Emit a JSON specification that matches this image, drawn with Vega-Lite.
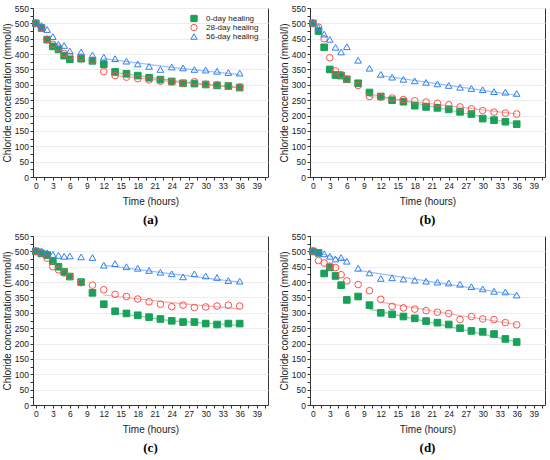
{
  "$schema": "https://vega.github.io/schema/vega-lite/v6.json",
  "padding": {"left": 1, "top": 3, "right": 2, "bottom": 0},
  "datasets": {
    "pts": [
      {"p":"a","s":"0-day healing","t":0,"c":500},{"p":"a","s":"0-day healing","t":1,"c":485},{"p":"a","s":"0-day healing","t":2,"c":447},{"p":"a","s":"0-day healing","t":3,"c":425},{"p":"a","s":"0-day healing","t":4,"c":415},{"p":"a","s":"0-day healing","t":5,"c":395},{"p":"a","s":"0-day healing","t":6,"c":383},{"p":"a","s":"0-day healing","t":8,"c":385},{"p":"a","s":"0-day healing","t":10,"c":378},{"p":"a","s":"0-day healing","t":12,"c":367},{"p":"a","s":"0-day healing","t":14,"c":342},{"p":"a","s":"0-day healing","t":16,"c":336},{"p":"a","s":"0-day healing","t":18,"c":330},{"p":"a","s":"0-day healing","t":20,"c":323},{"p":"a","s":"0-day healing","t":22,"c":317},{"p":"a","s":"0-day healing","t":24,"c":311},{"p":"a","s":"0-day healing","t":26,"c":305},{"p":"a","s":"0-day healing","t":28,"c":304},{"p":"a","s":"0-day healing","t":30,"c":301},{"p":"a","s":"0-day healing","t":32,"c":298},{"p":"a","s":"0-day healing","t":34,"c":296},{"p":"a","s":"0-day healing","t":36,"c":291},
      {"p":"a","s":"28-day healing","t":0,"c":500},{"p":"a","s":"28-day healing","t":1,"c":487},{"p":"a","s":"28-day healing","t":2,"c":448},{"p":"a","s":"28-day healing","t":3,"c":432},{"p":"a","s":"28-day healing","t":4,"c":420},{"p":"a","s":"28-day healing","t":5,"c":402},{"p":"a","s":"28-day healing","t":6,"c":393},{"p":"a","s":"28-day healing","t":8,"c":390},{"p":"a","s":"28-day healing","t":10,"c":380},{"p":"a","s":"28-day healing","t":12,"c":343},{"p":"a","s":"28-day healing","t":14,"c":330},{"p":"a","s":"28-day healing","t":16,"c":325},{"p":"a","s":"28-day healing","t":18,"c":320},{"p":"a","s":"28-day healing","t":20,"c":316},{"p":"a","s":"28-day healing","t":22,"c":312},{"p":"a","s":"28-day healing","t":24,"c":309},{"p":"a","s":"28-day healing","t":26,"c":305},{"p":"a","s":"28-day healing","t":28,"c":310},{"p":"a","s":"28-day healing","t":30,"c":302},{"p":"a","s":"28-day healing","t":32,"c":300},{"p":"a","s":"28-day healing","t":34,"c":296},{"p":"a","s":"28-day healing","t":36,"c":293},
      {"p":"a","s":"56-day healing","t":0,"c":503},{"p":"a","s":"56-day healing","t":1,"c":493},{"p":"a","s":"56-day healing","t":2,"c":480},{"p":"a","s":"56-day healing","t":3,"c":457},{"p":"a","s":"56-day healing","t":4,"c":432},{"p":"a","s":"56-day healing","t":5,"c":428},{"p":"a","s":"56-day healing","t":6,"c":410},{"p":"a","s":"56-day healing","t":8,"c":407},{"p":"a","s":"56-day healing","t":10,"c":397},{"p":"a","s":"56-day healing","t":12,"c":390},{"p":"a","s":"56-day healing","t":14,"c":385},{"p":"a","s":"56-day healing","t":16,"c":377},{"p":"a","s":"56-day healing","t":18,"c":368},{"p":"a","s":"56-day healing","t":20,"c":360},{"p":"a","s":"56-day healing","t":22,"c":350},{"p":"a","s":"56-day healing","t":24,"c":358},{"p":"a","s":"56-day healing","t":26,"c":355},{"p":"a","s":"56-day healing","t":28,"c":350},{"p":"a","s":"56-day healing","t":30,"c":348},{"p":"a","s":"56-day healing","t":32,"c":344},{"p":"a","s":"56-day healing","t":34,"c":340},{"p":"a","s":"56-day healing","t":36,"c":338},
      {"p":"b","s":"0-day healing","t":0,"c":500},{"p":"b","s":"0-day healing","t":1,"c":475},{"p":"b","s":"0-day healing","t":2,"c":422},{"p":"b","s":"0-day healing","t":3,"c":350},{"p":"b","s":"0-day healing","t":4,"c":332},{"p":"b","s":"0-day healing","t":5,"c":330},{"p":"b","s":"0-day healing","t":6,"c":318},{"p":"b","s":"0-day healing","t":8,"c":305},{"p":"b","s":"0-day healing","t":10,"c":275},{"p":"b","s":"0-day healing","t":12,"c":262},{"p":"b","s":"0-day healing","t":14,"c":250},{"p":"b","s":"0-day healing","t":16,"c":245},{"p":"b","s":"0-day healing","t":18,"c":232},{"p":"b","s":"0-day healing","t":20,"c":228},{"p":"b","s":"0-day healing","t":22,"c":225},{"p":"b","s":"0-day healing","t":24,"c":220},{"p":"b","s":"0-day healing","t":26,"c":212},{"p":"b","s":"0-day healing","t":28,"c":205},{"p":"b","s":"0-day healing","t":30,"c":190},{"p":"b","s":"0-day healing","t":32,"c":185},{"p":"b","s":"0-day healing","t":34,"c":180},{"p":"b","s":"0-day healing","t":36,"c":172},
      {"p":"b","s":"28-day healing","t":0,"c":500},{"p":"b","s":"28-day healing","t":1,"c":488},{"p":"b","s":"28-day healing","t":2,"c":450},{"p":"b","s":"28-day healing","t":3,"c":388},{"p":"b","s":"28-day healing","t":4,"c":345},{"p":"b","s":"28-day healing","t":5,"c":333},{"p":"b","s":"28-day healing","t":6,"c":318},{"p":"b","s":"28-day healing","t":8,"c":298},{"p":"b","s":"28-day healing","t":10,"c":262},{"p":"b","s":"28-day healing","t":12,"c":260},{"p":"b","s":"28-day healing","t":14,"c":257},{"p":"b","s":"28-day healing","t":16,"c":252},{"p":"b","s":"28-day healing","t":18,"c":248},{"p":"b","s":"28-day healing","t":20,"c":244},{"p":"b","s":"28-day healing","t":22,"c":240},{"p":"b","s":"28-day healing","t":24,"c":235},{"p":"b","s":"28-day healing","t":26,"c":228},{"p":"b","s":"28-day healing","t":28,"c":222},{"p":"b","s":"28-day healing","t":30,"c":216},{"p":"b","s":"28-day healing","t":32,"c":211},{"p":"b","s":"28-day healing","t":34,"c":208},{"p":"b","s":"28-day healing","t":36,"c":205},
      {"p":"b","s":"56-day healing","t":0,"c":503},{"p":"b","s":"56-day healing","t":1,"c":487},{"p":"b","s":"56-day healing","t":2,"c":465},{"p":"b","s":"56-day healing","t":3,"c":448},{"p":"b","s":"56-day healing","t":4,"c":422},{"p":"b","s":"56-day healing","t":5,"c":407},{"p":"b","s":"56-day healing","t":6,"c":424},{"p":"b","s":"56-day healing","t":8,"c":380},{"p":"b","s":"56-day healing","t":10,"c":354},{"p":"b","s":"56-day healing","t":12,"c":334},{"p":"b","s":"56-day healing","t":14,"c":325},{"p":"b","s":"56-day healing","t":16,"c":318},{"p":"b","s":"56-day healing","t":18,"c":313},{"p":"b","s":"56-day healing","t":20,"c":308},{"p":"b","s":"56-day healing","t":22,"c":303},{"p":"b","s":"56-day healing","t":24,"c":298},{"p":"b","s":"56-day healing","t":26,"c":292},{"p":"b","s":"56-day healing","t":28,"c":288},{"p":"b","s":"56-day healing","t":30,"c":284},{"p":"b","s":"56-day healing","t":32,"c":278},{"p":"b","s":"56-day healing","t":34,"c":276},{"p":"b","s":"56-day healing","t":36,"c":272},
      {"p":"c","s":"0-day healing","t":0,"c":500},{"p":"c","s":"0-day healing","t":1,"c":493},{"p":"c","s":"0-day healing","t":2,"c":488},{"p":"c","s":"0-day healing","t":3,"c":468},{"p":"c","s":"0-day healing","t":4,"c":450},{"p":"c","s":"0-day healing","t":5,"c":433},{"p":"c","s":"0-day healing","t":6,"c":418},{"p":"c","s":"0-day healing","t":8,"c":400},{"p":"c","s":"0-day healing","t":10,"c":365},{"p":"c","s":"0-day healing","t":12,"c":328},{"p":"c","s":"0-day healing","t":14,"c":305},{"p":"c","s":"0-day healing","t":16,"c":298},{"p":"c","s":"0-day healing","t":18,"c":292},{"p":"c","s":"0-day healing","t":20,"c":286},{"p":"c","s":"0-day healing","t":22,"c":280},{"p":"c","s":"0-day healing","t":24,"c":274},{"p":"c","s":"0-day healing","t":26,"c":270},{"p":"c","s":"0-day healing","t":28,"c":270},{"p":"c","s":"0-day healing","t":30,"c":265},{"p":"c","s":"0-day healing","t":32,"c":262},{"p":"c","s":"0-day healing","t":34,"c":265},{"p":"c","s":"0-day healing","t":36,"c":265},
      {"p":"c","s":"28-day healing","t":0,"c":500},{"p":"c","s":"28-day healing","t":1,"c":495},{"p":"c","s":"28-day healing","t":2,"c":478},{"p":"c","s":"28-day healing","t":3,"c":450},{"p":"c","s":"28-day healing","t":4,"c":440},{"p":"c","s":"28-day healing","t":5,"c":430},{"p":"c","s":"28-day healing","t":6,"c":418},{"p":"c","s":"28-day healing","t":8,"c":398},{"p":"c","s":"28-day healing","t":10,"c":390},{"p":"c","s":"28-day healing","t":12,"c":375},{"p":"c","s":"28-day healing","t":14,"c":360},{"p":"c","s":"28-day healing","t":16,"c":353},{"p":"c","s":"28-day healing","t":18,"c":345},{"p":"c","s":"28-day healing","t":20,"c":336},{"p":"c","s":"28-day healing","t":22,"c":328},{"p":"c","s":"28-day healing","t":24,"c":320},{"p":"c","s":"28-day healing","t":26,"c":325},{"p":"c","s":"28-day healing","t":28,"c":317},{"p":"c","s":"28-day healing","t":30,"c":319},{"p":"c","s":"28-day healing","t":32,"c":322},{"p":"c","s":"28-day healing","t":34,"c":325},{"p":"c","s":"28-day healing","t":36,"c":322},
      {"p":"c","s":"56-day healing","t":0,"c":503},{"p":"c","s":"56-day healing","t":1,"c":502},{"p":"c","s":"56-day healing","t":2,"c":495},{"p":"c","s":"56-day healing","t":3,"c":490},{"p":"c","s":"56-day healing","t":4,"c":487},{"p":"c","s":"56-day healing","t":5,"c":484},{"p":"c","s":"56-day healing","t":6,"c":485},{"p":"c","s":"56-day healing","t":8,"c":482},{"p":"c","s":"56-day healing","t":10,"c":480},{"p":"c","s":"56-day healing","t":12,"c":455},{"p":"c","s":"56-day healing","t":14,"c":460},{"p":"c","s":"56-day healing","t":16,"c":450},{"p":"c","s":"56-day healing","t":18,"c":445},{"p":"c","s":"56-day healing","t":20,"c":438},{"p":"c","s":"56-day healing","t":22,"c":432},{"p":"c","s":"56-day healing","t":24,"c":427},{"p":"c","s":"56-day healing","t":26,"c":417},{"p":"c","s":"56-day healing","t":28,"c":427},{"p":"c","s":"56-day healing","t":30,"c":420},{"p":"c","s":"56-day healing","t":32,"c":415},{"p":"c","s":"56-day healing","t":34,"c":405},{"p":"c","s":"56-day healing","t":36,"c":403},
      {"p":"d","s":"0-day healing","t":0,"c":500},{"p":"d","s":"0-day healing","t":1,"c":495},{"p":"d","s":"0-day healing","t":2,"c":428},{"p":"d","s":"0-day healing","t":3,"c":448},{"p":"d","s":"0-day healing","t":4,"c":420},{"p":"d","s":"0-day healing","t":5,"c":390},{"p":"d","s":"0-day healing","t":6,"c":342},{"p":"d","s":"0-day healing","t":8,"c":353},{"p":"d","s":"0-day healing","t":10,"c":325},{"p":"d","s":"0-day healing","t":12,"c":300},{"p":"d","s":"0-day healing","t":14,"c":295},{"p":"d","s":"0-day healing","t":16,"c":288},{"p":"d","s":"0-day healing","t":18,"c":282},{"p":"d","s":"0-day healing","t":20,"c":273},{"p":"d","s":"0-day healing","t":22,"c":268},{"p":"d","s":"0-day healing","t":24,"c":262},{"p":"d","s":"0-day healing","t":26,"c":250},{"p":"d","s":"0-day healing","t":28,"c":241},{"p":"d","s":"0-day healing","t":30,"c":238},{"p":"d","s":"0-day healing","t":32,"c":231},{"p":"d","s":"0-day healing","t":34,"c":215},{"p":"d","s":"0-day healing","t":36,"c":205},
      {"p":"d","s":"28-day healing","t":0,"c":500},{"p":"d","s":"28-day healing","t":1,"c":470},{"p":"d","s":"28-day healing","t":2,"c":462},{"p":"d","s":"28-day healing","t":3,"c":452},{"p":"d","s":"28-day healing","t":4,"c":447},{"p":"d","s":"28-day healing","t":5,"c":424},{"p":"d","s":"28-day healing","t":6,"c":404},{"p":"d","s":"28-day healing","t":8,"c":392},{"p":"d","s":"28-day healing","t":10,"c":372},{"p":"d","s":"28-day healing","t":12,"c":344},{"p":"d","s":"28-day healing","t":14,"c":321},{"p":"d","s":"28-day healing","t":16,"c":316},{"p":"d","s":"28-day healing","t":18,"c":312},{"p":"d","s":"28-day healing","t":20,"c":307},{"p":"d","s":"28-day healing","t":22,"c":302},{"p":"d","s":"28-day healing","t":24,"c":298},{"p":"d","s":"28-day healing","t":26,"c":278},{"p":"d","s":"28-day healing","t":28,"c":288},{"p":"d","s":"28-day healing","t":30,"c":280},{"p":"d","s":"28-day healing","t":32,"c":278},{"p":"d","s":"28-day healing","t":34,"c":268},{"p":"d","s":"28-day healing","t":36,"c":261},
      {"p":"d","s":"56-day healing","t":0,"c":503},{"p":"d","s":"56-day healing","t":1,"c":498},{"p":"d","s":"56-day healing","t":2,"c":492},{"p":"d","s":"56-day healing","t":3,"c":484},{"p":"d","s":"56-day healing","t":4,"c":475},{"p":"d","s":"56-day healing","t":5,"c":480},{"p":"d","s":"56-day healing","t":6,"c":468},{"p":"d","s":"56-day healing","t":8,"c":445},{"p":"d","s":"56-day healing","t":10,"c":430},{"p":"d","s":"56-day healing","t":12,"c":412},{"p":"d","s":"56-day healing","t":14,"c":414},{"p":"d","s":"56-day healing","t":16,"c":410},{"p":"d","s":"56-day healing","t":18,"c":406},{"p":"d","s":"56-day healing","t":20,"c":403},{"p":"d","s":"56-day healing","t":22,"c":400},{"p":"d","s":"56-day healing","t":24,"c":397},{"p":"d","s":"56-day healing","t":26,"c":393},{"p":"d","s":"56-day healing","t":28,"c":385},{"p":"d","s":"56-day healing","t":30,"c":378},{"p":"d","s":"56-day healing","t":32,"c":370},{"p":"d","s":"56-day healing","t":34,"c":368},{"p":"d","s":"56-day healing","t":36,"c":358}
    ],
    "fits": [
      {"p":"a","f":"0","g":"a0","t":14,"c":340},{"p":"a","f":"0","g":"a0","t":25,"c":312},{"p":"a","f":"0","g":"a0","t":36,"c":290},
      {"p":"a","f":"28","g":"a28","t":14,"c":331},{"p":"a","f":"28","g":"a28","t":25,"c":309},{"p":"a","f":"28","g":"a28","t":36,"c":291},
      {"p":"a","f":"56","g":"a56","t":12,"c":385},{"p":"a","f":"56","g":"a56","t":24,"c":357},{"p":"a","f":"56","g":"a56","t":36,"c":333},
      {"p":"b","f":"0","g":"b0","t":10,"c":270},{"p":"b","f":"0","g":"b0","t":23,"c":222},{"p":"b","f":"0","g":"b0","t":36,"c":172},
      {"p":"b","f":"28","g":"b28","t":10,"c":262},{"p":"b","f":"28","g":"b28","t":23,"c":234},{"p":"b","f":"28","g":"b28","t":36,"c":205},
      {"p":"b","f":"56","g":"b56","t":12,"c":330},{"p":"b","f":"56","g":"b56","t":24,"c":298},{"p":"b","f":"56","g":"b56","t":36,"c":266},
      {"p":"c","f":"0","g":"c0","t":14,"c":300},{"p":"c","f":"0","g":"c0","t":24,"c":274},{"p":"c","f":"0","g":"c0","t":36,"c":259},
      {"p":"c","f":"28","g":"c28","t":12,"c":358},{"p":"c","f":"28","g":"c28","t":24,"c":333},{"p":"c","f":"28","g":"c28","t":36,"c":313},
      {"p":"c","f":"56","g":"c56","t":12,"c":455},{"p":"c","f":"56","g":"c56","t":24,"c":427},{"p":"c","f":"56","g":"c56","t":36,"c":400},
      {"p":"d","f":"0","g":"d0","t":10,"c":312},{"p":"d","f":"0","g":"d0","t":23,"c":260},{"p":"d","f":"0","g":"d0","t":36,"c":205},
      {"p":"d","f":"28","g":"d28","t":12,"c":335},{"p":"d","f":"28","g":"d28","t":24,"c":297},{"p":"d","f":"28","g":"d28","t":36,"c":262},
      {"p":"d","f":"56","g":"d56a","t":0,"c":500},{"p":"d","f":"56","g":"d56a","t":3,"c":485},{"p":"d","f":"56","g":"d56a","t":6,"c":470},
      {"p":"d","f":"56","g":"d56b","t":8,"c":438},{"p":"d","f":"56","g":"d56b","t":22,"c":398},{"p":"d","f":"56","g":"d56b","t":36,"c":358}
    ]
  },
  "vconcat": [
    {
      "hconcat": [
        {
          "width": 235, "height": 169,
          "title": "(a)",
          "layer": [
            {
              "data": {"name": "fits"},
              "transform": [{"filter": "datum.p == 'a'"}],
              "mark": {"type": "line", "strokeWidth": 1.2, "opacity": 0.7},
              "encoding": {
                "x": {"field": "t", "type": "quantitative", "scale": {"domain": [-0.5, 41], "nice": false, "zero": false},
                  "axis": {"title": "Time (hours)", "values": [0,1.5,3,4.5,6,7.5,9,10.5,12,13.5,15,16.5,18,19.5,21,22.5,24,25.5,27,28.5,30,31.5,33,34.5,36,37.5,39,40.5], "tickCount": 100, "format": "d", "labelExpr": "datum.value % 3 == 0 ? datum.label : ''", "tickSize": 3, "ticks": true, "grid": false, "labelOverlap": false, "labelFlush": false}},
                "y": {"field": "c", "type": "quantitative", "scale": {"domain": [0, 550], "nice": false},
                  "axis": {"title": "Chloride concentration (mmol/l)", "values": [0,25,50,75,100,125,150,175,200,225,250,275,300,325,350,375,400,425,450,475,500,525,550], "tickCount": 100, "labelExpr": "datum.value % 50 == 0 ? datum.label : ''", "tickSize": 3, "ticks": true, "grid": true, "gridOpacity": {"condition": {"test": "datum.value % 50 != 0", "value": 0}, "value": 1}, "labelOverlap": false, "labelFlush": false}},
                "detail": {"field": "g", "type": "nominal"},
                "stroke": {"field": "f", "type": "nominal", "scale": {"domain": ["0", "28", "56"], "range": ["#4cc27f", "#f28b8b", "#6fa8f2"]}, "legend": null}
              }
            },
            {
              "data": {"name": "pts"},
              "transform": [{"filter": "datum.p == 'a'"}],
              "mark": {"type": "point", "filled": false, "size": 44, "strokeWidth": 1, "opacity": 1},
              "encoding": {
                "x": {"field": "t", "type": "quantitative"},
                "y": {"field": "c", "type": "quantitative"},
                "color": {"field": "s", "type": "nominal", "scale": {"domain": ["0-day healing", "28-day healing", "56-day healing"], "range": ["#18a158", "#ff5050", "#2f80f5"]},
                  "legend": {"title": null, "orient": "none", "legendX": 157, "legendY": 6}},
                "shape": {"field": "s", "type": "nominal", "scale": {"domain": ["0-day healing", "28-day healing", "56-day healing"], "range": ["square", "circle", "triangle-up"]},
                  "legend": {"title": null, "orient": "none", "legendX": 157, "legendY": 6}},
                "fill": {"field": "s", "type": "nominal", "scale": {"domain": ["0-day healing", "28-day healing", "56-day healing"], "range": ["#18a158", "transparent", "transparent"]},
                  "legend": {"title": null, "orient": "none", "legendX": 157, "legendY": 6}}
              }
            }
          ]
        },
        {
          "width": 235, "height": 169,
          "title": "(b)",
          "layer": [
            {
              "data": {"name": "fits"},
              "transform": [{"filter": "datum.p == 'b'"}],
              "mark": {"type": "line", "strokeWidth": 1.2, "opacity": 0.7},
              "encoding": {
                "x": {"field": "t", "type": "quantitative", "scale": {"domain": [-0.5, 41], "nice": false, "zero": false},
                  "axis": {"title": "Time (hours)", "values": [0,1.5,3,4.5,6,7.5,9,10.5,12,13.5,15,16.5,18,19.5,21,22.5,24,25.5,27,28.5,30,31.5,33,34.5,36,37.5,39,40.5], "tickCount": 100, "format": "d", "labelExpr": "datum.value % 3 == 0 ? datum.label : ''", "tickSize": 3, "ticks": true, "grid": false, "labelOverlap": false, "labelFlush": false}},
                "y": {"field": "c", "type": "quantitative", "scale": {"domain": [0, 550], "nice": false},
                  "axis": {"title": "Chloride concentration (mmol/l)", "values": [0,25,50,75,100,125,150,175,200,225,250,275,300,325,350,375,400,425,450,475,500,525,550], "tickCount": 100, "labelExpr": "datum.value % 50 == 0 ? datum.label : ''", "tickSize": 3, "ticks": true, "grid": true, "gridOpacity": {"condition": {"test": "datum.value % 50 != 0", "value": 0}, "value": 1}, "labelOverlap": false, "labelFlush": false}},
                "detail": {"field": "g", "type": "nominal"},
                "stroke": {"field": "f", "type": "nominal", "scale": {"domain": ["0", "28", "56"], "range": ["#4cc27f", "#f28b8b", "#6fa8f2"]}, "legend": null}
              }
            },
            {
              "data": {"name": "pts"},
              "transform": [{"filter": "datum.p == 'b'"}],
              "mark": {"type": "point", "filled": false, "size": 44, "strokeWidth": 1, "opacity": 1},
              "encoding": {
                "x": {"field": "t", "type": "quantitative"},
                "y": {"field": "c", "type": "quantitative"},
                "color": {"field": "s", "type": "nominal", "scale": {"domain": ["0-day healing", "28-day healing", "56-day healing"], "range": ["#18a158", "#ff5050", "#2f80f5"]}},
                "shape": {"field": "s", "type": "nominal", "scale": {"domain": ["0-day healing", "28-day healing", "56-day healing"], "range": ["square", "circle", "triangle-up"]}},
                "fill": {"field": "s", "type": "nominal", "scale": {"domain": ["0-day healing", "28-day healing", "56-day healing"], "range": ["#18a158", "transparent", "transparent"]}}
              }
            }
          ]
        }
      ]
    },
    {
      "hconcat": [
        {
          "width": 235, "height": 169,
          "title": "(c)",
          "layer": [
            {
              "data": {"name": "fits"},
              "transform": [{"filter": "datum.p == 'c'"}],
              "mark": {"type": "line", "strokeWidth": 1.2, "opacity": 0.7},
              "encoding": {
                "x": {"field": "t", "type": "quantitative", "scale": {"domain": [-0.5, 41], "nice": false, "zero": false},
                  "axis": {"title": "Time (hours)", "values": [0,1.5,3,4.5,6,7.5,9,10.5,12,13.5,15,16.5,18,19.5,21,22.5,24,25.5,27,28.5,30,31.5,33,34.5,36,37.5,39,40.5], "tickCount": 100, "format": "d", "labelExpr": "datum.value % 3 == 0 ? datum.label : ''", "tickSize": 3, "ticks": true, "grid": false, "labelOverlap": false, "labelFlush": false}},
                "y": {"field": "c", "type": "quantitative", "scale": {"domain": [0, 550], "nice": false},
                  "axis": {"title": "Chloride concentration (mmol/l)", "values": [0,25,50,75,100,125,150,175,200,225,250,275,300,325,350,375,400,425,450,475,500,525,550], "tickCount": 100, "labelExpr": "datum.value % 50 == 0 ? datum.label : ''", "tickSize": 3, "ticks": true, "grid": true, "gridOpacity": {"condition": {"test": "datum.value % 50 != 0", "value": 0}, "value": 1}, "labelOverlap": false, "labelFlush": false}},
                "detail": {"field": "g", "type": "nominal"},
                "stroke": {"field": "f", "type": "nominal", "scale": {"domain": ["0", "28", "56"], "range": ["#4cc27f", "#f28b8b", "#6fa8f2"]}, "legend": null}
              }
            },
            {
              "data": {"name": "pts"},
              "transform": [{"filter": "datum.p == 'c'"}],
              "mark": {"type": "point", "filled": false, "size": 44, "strokeWidth": 1, "opacity": 1},
              "encoding": {
                "x": {"field": "t", "type": "quantitative"},
                "y": {"field": "c", "type": "quantitative"},
                "color": {"field": "s", "type": "nominal", "scale": {"domain": ["0-day healing", "28-day healing", "56-day healing"], "range": ["#18a158", "#ff5050", "#2f80f5"]}},
                "shape": {"field": "s", "type": "nominal", "scale": {"domain": ["0-day healing", "28-day healing", "56-day healing"], "range": ["square", "circle", "triangle-up"]}},
                "fill": {"field": "s", "type": "nominal", "scale": {"domain": ["0-day healing", "28-day healing", "56-day healing"], "range": ["#18a158", "transparent", "transparent"]}}
              }
            }
          ]
        },
        {
          "width": 235, "height": 169,
          "title": "(d)",
          "layer": [
            {
              "data": {"name": "fits"},
              "transform": [{"filter": "datum.p == 'd'"}],
              "mark": {"type": "line", "strokeWidth": 1.2, "opacity": 0.7},
              "encoding": {
                "x": {"field": "t", "type": "quantitative", "scale": {"domain": [-0.5, 41], "nice": false, "zero": false},
                  "axis": {"title": "Time (hours)", "values": [0,1.5,3,4.5,6,7.5,9,10.5,12,13.5,15,16.5,18,19.5,21,22.5,24,25.5,27,28.5,30,31.5,33,34.5,36,37.5,39,40.5], "tickCount": 100, "format": "d", "labelExpr": "datum.value % 3 == 0 ? datum.label : ''", "tickSize": 3, "ticks": true, "grid": false, "labelOverlap": false, "labelFlush": false}},
                "y": {"field": "c", "type": "quantitative", "scale": {"domain": [0, 550], "nice": false},
                  "axis": {"title": "Chloride concentration (mmol/l)", "values": [0,25,50,75,100,125,150,175,200,225,250,275,300,325,350,375,400,425,450,475,500,525,550], "tickCount": 100, "labelExpr": "datum.value % 50 == 0 ? datum.label : ''", "tickSize": 3, "ticks": true, "grid": true, "gridOpacity": {"condition": {"test": "datum.value % 50 != 0", "value": 0}, "value": 1}, "labelOverlap": false, "labelFlush": false}},
                "detail": {"field": "g", "type": "nominal"},
                "stroke": {"field": "f", "type": "nominal", "scale": {"domain": ["0", "28", "56"], "range": ["#4cc27f", "#f28b8b", "#6fa8f2"]}, "legend": null}
              }
            },
            {
              "data": {"name": "pts"},
              "transform": [{"filter": "datum.p == 'd'"}],
              "mark": {"type": "point", "filled": false, "size": 44, "strokeWidth": 1, "opacity": 1},
              "encoding": {
                "x": {"field": "t", "type": "quantitative"},
                "y": {"field": "c", "type": "quantitative"},
                "color": {"field": "s", "type": "nominal", "scale": {"domain": ["0-day healing", "28-day healing", "56-day healing"], "range": ["#18a158", "#ff5050", "#2f80f5"]}},
                "shape": {"field": "s", "type": "nominal", "scale": {"domain": ["0-day healing", "28-day healing", "56-day healing"], "range": ["square", "circle", "triangle-up"]}},
                "fill": {"field": "s", "type": "nominal", "scale": {"domain": ["0-day healing", "28-day healing", "56-day healing"], "range": ["#18a158", "transparent", "transparent"]}}
              }
            }
          ]
        }
      ]
    }
  ],
  "spacing": 3,
  "config": {
    "concat": {"spacing": 9},
    "view": {"stroke": "#333", "strokeWidth": 1},
    "title": {"orient": "bottom", "font": "Liberation Serif", "fontSize": 13, "fontWeight": "bold", "color": "#000", "offset": 8},
    "axis": {"labelFont": "Liberation Sans", "titleFont": "Liberation Sans", "labelFontSize": 8.5, "titleFontSize": 10, "titleFontWeight": "normal", "labelColor": "#222", "titleColor": "#222", "domainColor": "#333", "tickColor": "#333", "gridColor": "#ededed", "labelPadding": 1.5},
    "axisX": {"titlePadding": 6},
    "axisY": {"titlePadding": 2},
    "legend": {"labelFont": "Liberation Sans", "labelFontSize": 8, "labelColor": "#222", "symbolSize": 40, "symbolStrokeWidth": 1, "rowPadding": 0, "clipHeight": 9, "labelOffset": 8}
  }
}
